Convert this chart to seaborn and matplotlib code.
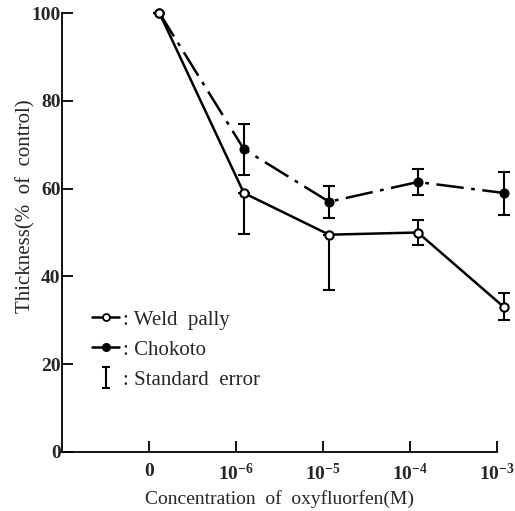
import numpy as np
import pandas as pd
import matplotlib
matplotlib.use("Agg")
import matplotlib.pyplot as plt
import seaborn as sns
from matplotlib.lines import Line2D

# ---- data ----
tick_labels = ["0", r"$\mathbf{10^{-6}}$", r"$\mathbf{10^{-5}}$", r"$\mathbf{10^{-4}}$", r"$\mathbf{10^{-3}}$"]
tick_pos = [0, 1, 2, 3, 4]
point_pos = [0.12, 1.09, 2.07, 3.09, 4.08]

weld = [100, 59, 49.5, 50, 33]
weld_err_low = [0, 9.4, 12.5, 2.8, 2.9]
weld_err_high = [0, 0, 0, 2.8, 3.2]

chokoto = [100, 69, 57, 61.5, 59]
chokoto_err_low = [0, 5.8, 3.6, 3.0, 5.0]
chokoto_err_high = [0, 5.8, 3.6, 3.0, 4.8]

yticks = [0, 20, 40, 60, 80, 100]

# ---- style ----
sns.set_theme(style="ticks")
plt.rcParams['font.family'] = ['Liberation Serif', 'DejaVu Serif']
plt.rcParams['mathtext.fontset'] = 'custom'
plt.rcParams['mathtext.rm'] = 'Liberation Serif'
plt.rcParams['mathtext.bf'] = 'Liberation Serif:bold'

fig = plt.figure(figsize=(5.15, 5.11), dpi=100)
ax = fig.add_axes([62/515, 1 - 452/511, (497 - 62)/515, (452 - 13)/511])

df_w = pd.DataFrame({"x": point_pos, "y": weld})
df_c = pd.DataFrame({"x": point_pos, "y": chokoto})

sns.lineplot(data=df_c, x="x", y="y", ax=ax, color="black", lw=1.8,
             linestyle=(0, (11, 3, 1.5, 3)), marker="o", markersize=6.5,
             markerfacecolor="black", markeredgecolor="black", clip_on=False, zorder=3)
sns.lineplot(data=df_w, x="x", y="y", ax=ax, color="black", lw=1.8,
             linestyle="-", marker="o", markersize=6,
             markerfacecolor="white", markeredgecolor="black", markeredgewidth=1.5,
             clip_on=False, zorder=4)

ax.errorbar(point_pos, chokoto, yerr=[chokoto_err_low, chokoto_err_high], fmt="none",
            ecolor="black", elinewidth=1.5, capsize=4.5, capthick=1.5, clip_on=False, zorder=2)
ax.errorbar(point_pos, weld, yerr=[weld_err_low, weld_err_high], fmt="none",
            ecolor="black", elinewidth=1.5, capsize=4.5, capthick=1.5, clip_on=False, zorder=2)

ax.set_xlim(-1, 4)
ax.set_ylim(0, 100)
ax.set_xticks(tick_pos)
ax.set_xticklabels(tick_labels, fontsize=14, fontweight="bold")
ax.set_yticks(yticks)
ax.set_yticklabels([str(v) for v in yticks], fontsize=14, fontweight="bold")
ax.tick_params(axis="both", direction="in", length=8, width=1.3, color="black")
ax.tick_params(axis="x", pad=8)
ax.tick_params(axis="y", pad=1)
ax.set_xlabel("Concentration  of  oxyfluorfen(M)", fontsize=14, labelpad=4)
ax.set_ylabel("Thickness(%  of  control)", fontsize=15)
ax.yaxis.set_label_coords(-0.062, 0.56)
for s in ["top", "right"]:
    ax.spines[s].set_visible(False)
for s in ["left", "bottom"]:
    ax.spines[s].set_linewidth(1.3)
    ax.spines[s].set_color("black")
ax.set_facecolor("white")

# legend
h_w = Line2D([], [], color="black", lw=1.8, marker="o", markersize=5,
             markerfacecolor="white", markeredgecolor="black", markeredgewidth=1.3)
h_c = Line2D([], [], color="black", lw=1.8, marker="o", markersize=5.5,
             markerfacecolor="black")
h_e = ax.errorbar([np.nan], [np.nan], yerr=[[1], [1]], fmt="none", ecolor="black",
                  elinewidth=1.5, capsize=3, capthick=1.5)
leg = fig.legend([h_w, h_c, h_e], [": Weld  pally", ": Chokoto", ": Standard  error"],
                 loc="upper left", bbox_to_anchor=(92/515, 1 - 310/511),
                 bbox_transform=fig.transFigure, frameon=False, fontsize=15,
                 handlelength=1.3, handletextpad=0.2, labelspacing=0.5,
                 borderpad=0, borderaxespad=0)

fig.savefig("out.png", dpi=100, facecolor="white")
